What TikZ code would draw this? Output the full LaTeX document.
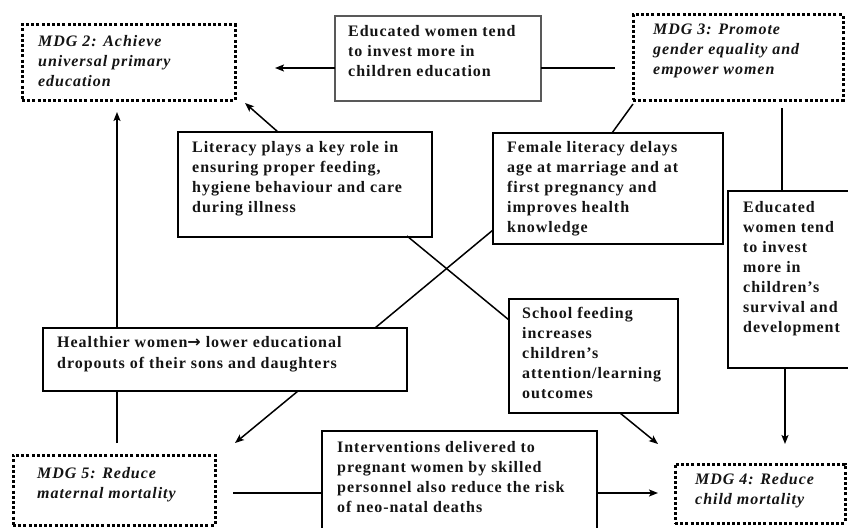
\documentclass[tikz,border=0pt]{standalone}
\usepackage{fontspec}
\setmainfont{Liberation Serif}[LetterSpace=6]
\newfontfamily\arrowfont{DejaVu Sans}
\usetikzlibrary{arrows.meta,calc}
\begin{document}
\begin{tikzpicture}[x=1pt,y=-1pt,
 box/.style={draw=black, line width=1.3pt, inner sep=0pt, outer sep=0pt, anchor=north west},
 goal/.style={draw=black, line width=3pt, dash pattern=on 3pt off 2.2pt, inner sep=0pt, outer sep=0pt, anchor=north west},
 txt/.style={anchor=north west, inner sep=0pt, align=left, text=black!92, font=\fontsize{16}{20}\selectfont\bfseries},
 gtxt/.style={anchor=north west, inner sep=0pt, align=left, text=black!92, font=\fontsize{16}{20}\selectfont\bfseries\itshape},
 conn/.style={line width=1.5pt},
 arr/.style={conn, -{Stealth[length=9pt,width=7pt,inset=2pt]}}]
\useasboundingbox (0,0) rectangle (848,527);
% boxes
\node[goal, minimum width=213pt, minimum height=75pt] (mdg2) at (22,25) {};
\node[box, draw=black!65, minimum width=206pt, minimum height=85pt] (edu1) at (335,16) {};
\node[goal, minimum width=210pt, minimum height=85pt] (mdg3) at (633,15) {};
\node[box, minimum width=254pt, minimum height=105pt] (lit) at (178,132) {};
\node[box, minimum width=230pt, minimum height=111pt] (fem) at (493,133) {};
\node[box, minimum width=125pt, minimum height=177pt] (edu2) at (728,191) {};
\node[box, minimum width=169pt, minimum height=114pt] (school) at (509,299) {};
\node[box, minimum width=364pt, minimum height=63pt] (healthy) at (43,328) {};
\node[goal, minimum width=202pt, minimum height=70pt] (mdg5) at (13,455) {};
\node[box, minimum width=275pt, minimum height=110pt] (interv) at (322,431) {};
\node[goal, minimum width=170pt, minimum height=59pt] (mdg4) at (675,464) {};
% texts
\node[gtxt] (mdg2t) at (38,35) {MDG 2: Achieve\\universal primary\\education};
\node[txt] (edu1t) at (348,25) {Educated women tend\\to invest more in\\children education};
\node[gtxt] (mdg3t) at (653,24) {MDG 3: Promote\\gender equality and\\empower women};
\node[txt] (litt) at (192,141) {Literacy plays a key role in\\ensuring proper feeding,\\hygiene behaviour and care\\during illness};
\node[txt] (femt) at (507,141) {Female literacy delays\\age at marriage and at\\first pregnancy and\\improves health\\knowledge};
\node[txt] (edu2t) at (743,201) {Educated\\women tend\\to invest\\more in\\children’s\\survival and\\development};
\node[txt] (schoolt) at (522,307) {School feeding\\increases\\children’s\\attention/learning\\outcomes};
\node[txt, font=\fontsize{16}{21.5}\selectfont\bfseries] (healthyt) at (57,336) {Healthier women{\arrowfont\bfseries →} lower educational\\dropouts of their sons and daughters};
\node[gtxt] (mdg5t) at (37,467) {MDG 5: Reduce\\maternal mortality};
\node[txt] (intervt) at (337,441) {Interventions delivered to\\pregnant women by skilled\\personnel also reduce the risk\\of neo-natal deaths};
\node[gtxt] (mdg4t) at (695,473) {MDG 4: Reduce\\child mortality};
% connector end points
\coordinate (c1) at (275,68);
\coordinate (c2) at (615,68);
\coordinate (c3) at (245,103);
\coordinate (c4) at (278,132);
\coordinate (c5) at (407,236);
\coordinate (c6) at (509,320);
\coordinate (c7) at (620,413);
\coordinate (c8) at (658,444);
\coordinate (c9) at (633,104);
\coordinate (c10) at (612,133);
\coordinate (c11) at (493,230);
\coordinate (c12) at (375,328);
\coordinate (c13) at (298,391);
\coordinate (c14) at (235,443);
\coordinate (c15) at (117,443);
\coordinate (c16) at (117,112);
\coordinate (c17) at (233,493);
\coordinate (c18) at (658,493);
\coordinate (c19) at (782,108);
\coordinate (c20) at (785,444);
% connectors
\draw[arr] (edu1.west |- c1) -- (c1);
\draw[conn] (c2) -- (edu1.east |- c2);
\draw[arr] (c4) -- (c3);
\draw[conn] (c5) -- (c6);
\draw[arr] (c7) -- (c8);
\draw[conn] (c9) -- (c10);
\draw[conn] (c11) -- (c12);
\draw[arr] (c13) -- (c14);
\draw[conn] (c15) -- (healthy.south -| c15);
\draw[arr] (healthy.north -| c16) -- (c16);
\draw[conn] (c17) -- (interv.west |- c17);
\draw[arr] (interv.east |- c18) -- (c18);
\draw[conn] (c19) -- (edu2.north -| c19);
\draw[arr] (edu2.south -| c20) -- (c20);
\end{tikzpicture}
\end{document}
